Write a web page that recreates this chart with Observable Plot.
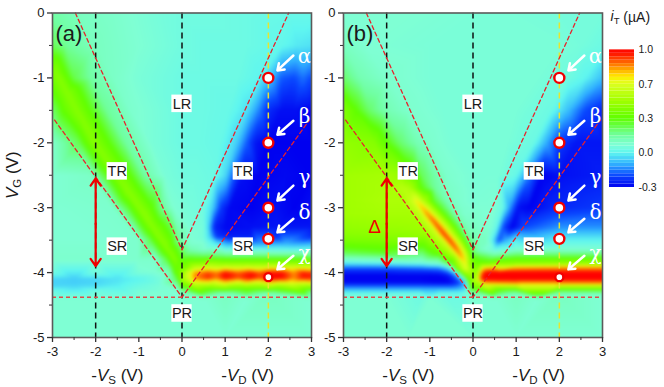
<!DOCTYPE html>
<html><head><meta charset="utf-8">
<script src="https://cdn.jsdelivr.net/npm/d3@7"></script>
<script src="https://cdn.jsdelivr.net/npm/@observablehq/plot@0.6"></script>
<style>
html,body{margin:0;padding:0;background:#fff}
#page{position:relative;width:664px;height:387px;overflow:hidden;font-family:"Liberation Sans",Arial,sans-serif}
#page>div{position:absolute;top:0}
svg{overflow:visible;background:transparent;display:block}
</style></head><body><div id="page"><div id="pa" style="left:0"></div><div id="pb" style="left:291px"></div><div id="cb" style="left:600px"></div></div>
<script>
// Colour scale (i_T in uA)
const colorStops=[-0.3,-0.2,-0.1,0,0.07,0.15,0.3,0.5,0.7,0.76,0.85,0.95,1.0];
const colorHex=["#0000f0","#0a48ff","#30b0ff","#5ff6f0","#7fffd4","#70ffa0","#60ff00","#a0ff00","#dcff20","#ffee00","#ff9000","#ff2000","#ff0000"];
const barTicks=[-0.3,0.0,0.3,0.7,1.0];

// Surface: [gate voltage, [x, i, x, i, ...]]
const leftA=[
[0,[-3,.14,-2.4,.1,-1.5,.08,-.5,.05,0,.04]],
[-.5,[-3,.22,-2.7,.16,-2,.1,-1,.07,0,.04]],
[-1,[-3,.36,-2.85,.42,-2.5,.23,-2.1,.14,-1.6,.09,-1,.06,0,.03]],
[-1.5,[-3,.2,-2.75,.31,-2.44,.42,-2.15,.3,-1.75,.16,-1.2,.08,0,.03]],
[-2,[-3,.08,-2.4,.22,-2.2,.33,-2.02,.42,-1.75,.32,-1.3,.15,-.7,.06,0,.03]],
[-2.5,[-3,.07,-2.1,.09,-1.75,.27,-1.51,.42,-1.25,.32,-.85,.14,-.4,.06,0,.04]],
[-3,[-3,.07,-1.6,.08,-1.25,.25,-.98,.43,-.72,.32,-.42,.14,-.2,.07,0,.06]],
[-3.5,[-3,.07,-2,.07,-1,.08,-.75,.22,-.47,.43,-.25,.32,-.1,.17,0,.12]],
[-3.8,[-3,.08,-2,.08,-1,.08,-.6,.08,-.38,.22,-.17,.42,-.05,.32,0,.28]],
[-4,[-3,.04,-2,.05,-1,.06,-.6,.07,-.3,.1,-.15,.32,-.05,.38,0,.48]],
[-4.1,[-3,-.05,-2.5,-.06,-2,-.05,-1.5,-.03,-1,.0,-.5,.05,-.15,.2,-.03,.38,0,.52]],
[-4.2,[-3,-.05,-2.5,-.05,-2,-.04,-1.5,-.01,-1,.03,-.5,.06,-.1,.12,0,.35]],
[-4.3,[-3,.04,-2,.05,-1,.06,-.5,.07,-.1,.07,0,.12]],
[-4.4,[-3,.07,-2,.07,-1,.07,0,.07]],
[-5,[-3,.07,-1.5,.07,0,.07]]
];
// Crest of the green band in (a): x, gate voltage, i
const crestA=[-2.95,-.88,.41,-2.75,-1.12,.42,-2.64,-1.25,.42,-2.54,-1.38,.42,-2.33,-1.62,.42,-2.23,-1.75,.42,-2.12,-1.88,.42,-1.9,-2.12,.42,-1.77,-2.25,.42,-1.64,-2.38,.42,-1.38,-2.62,.42,-1.25,-2.75,.43,-1.11,-2.88,.43,-.85,-3.12,.44,-.73,-3.25,.43,-.6,-3.38,.43,-.35,-3.62,.42,-.24,-3.72,.42];
const rightA=[
[0,[.5,.04,1.5,.03,2.5,.02,3,.02]],
[-.5,[.5,.03,1.5,.03,2.3,.01,2.7,-.02,3,-.03]],
[-1,[.5,.03,1.3,.03,1.8,0,2.05,-.08,2.3,-.18,2.6,-.2,2.8,-.16,3,-.2]],
[-1.5,[.5,.03,1.1,.02,1.5,-.03,1.8,-.15,2,-.24,2.3,-.28,2.6,-.28,3,-.3]],
[-2,[.4,.03,.9,.02,1.25,-.05,1.5,-.18,1.7,-.27,2,-.3,2.5,-.3,3,-.3]],
[-2.5,[.3,.04,.75,.03,1,-.04,1.2,-.18,1.4,-.28,1.8,-.3,2.4,-.29,3,-.3]],
[-3,[.2,.05,.5,.04,.7,-.05,.9,-.22,1.1,-.29,1.6,-.3,2.2,-.28,2.6,-.3,3,-.28]],
[-3.3,[.2,.06,.5,.05,.62,-.05,.75,-.25,1,-.29,1.6,-.28,2.2,-.27,3,-.27]],
[-3.45,[.2,.07,.5,.05,.65,-.05,.8,-.22,1.1,-.26,1.6,-.26,2.2,-.24,3,-.24]],
[-3.55,[.2,.08,.5,.07,.8,-.02,1.2,-.1,1.8,-.12,2.4,-.1,3,-.1]],
[-3.65,[.2,.12,.5,.08,1,.04,1.5,.02,2,.03,2.5,.02,3,.03]],
[-3.75,[.15,.24,.5,.22,1,.2,1.5,.2,2,.2,2.5,.2,3,.2]],
[-3.83,[.15,.36,.5,.38,1,.38,1.5,.38,2,.38,2.5,.38,3,.38]],
[-3.92,[.1,.4,.3,.6,.6,.66,1,.68,1.5,.68,2,.7,2.5,.68,3,.66]],
[-4,[.1,.62,.3,.84,.6,.92,.8,.87,1,.98,1.3,.9,1.6,.97,1.8,.9,2,.98,2.3,.98,2.6,.85,2.8,.96,3,.94]],
[-4.08,[.1,.62,.3,.86,.6,.95,.8,.88,1,1,1.3,.92,1.6,1,1.8,.92,2,1,2.3,1,2.6,.86,2.8,.97,3,.96]],
[-4.16,[.1,.47,.3,.66,.6,.7,1,.74,1.5,.74,2,.76,2.5,.7,3,.72]],
[-4.24,[.15,.26,.6,.36,1.5,.36,2.2,.36,3,.36]],
[-4.32,[.15,.1,1,.1,2,.1,3,.1]],
[-4.4,[.5,.07,1.5,.07,3,.07]],
[-5,[1,.07,3,.07]]
];
// Surface
const leftB=[
[0,[-3,.07,-1.5,.07,0,.06]],
[-.5,[-3,.1,-2.5,.07,-1,.06,0,.06]],
[-1,[-3,.2,-2.6,.12,-2,.08,-1,.06,0,.06]],
[-1.5,[-3,.4,-2.7,.3,-2.4,.2,-2,.12,-1.5,.08,-.7,.06,0,.06]],
[-2,[-3,.46,-2.3,.42,-2,.3,-1.7,.2,-1.3,.12,-1,.08,-.5,.06,0,.06]],
[-2.5,[-3,.5,-2,.52,-1.7,.48,-1.5,.38,-1.2,.22,-.9,.14,-.6,.08,0,.06]],
[-2.7,[-3,.5,-2,.53,-1.6,.58,-1.45,.54,-1.2,.3,-.9,.16,-.6,.09,0,.06]],
[-2.9,[-3,.5,-2,.54,-1.6,.54,-1.45,.62,-1.29,.76,-1.13,.56,-.9,.26,-.6,.12,-.35,.08,0,.06]],
[-3,[-3,.5,-2,.53,-1.55,.53,-1.33,.62,-1.17,.82,-1.01,.62,-.78,.28,-.5,.12,-.25,.08,0,.07]],
[-3.1,[-3,.5,-2,.52,-1.45,.52,-1.21,.62,-1.05,.88,-.89,.65,-.65,.29,-.4,.12,-.2,.08,0,.08]],
[-3.2,[-3,.48,-2,.5,-1.3,.51,-1.08,.64,-.92,.92,-.76,.67,-.52,.29,-.3,.13,-.15,.09,0,.09]],
[-3.3,[-3,.46,-2,.48,-1.2,.5,-.96,.64,-.8,.94,-.64,.69,-.4,.29,-.22,.14,-.1,.1,0,.1]],
[-3.4,[-3,.43,-2,.45,-1.1,.48,-.84,.64,-.68,.96,-.52,.69,-.3,.29,-.15,.15,-.05,.12,0,.12]],
[-3.5,[-3,.38,-2,.4,-1,.46,-.71,.64,-.55,.95,-.39,.69,-.2,.3,-.08,.17,0,.15]],
[-3.6,[-3,.3,-2,.33,-.9,.4,-.59,.62,-.43,.93,-.27,.67,-.12,.3,0,.18]],
[-3.7,[-3,.22,-2,.26,-.8,.33,-.48,.58,-.32,.88,-.16,.62,-.05,.28,0,.22]],
[-3.8,[-3,.07,-2,.1,-.8,.15,-.45,.38,-.22,.8,-.08,.5,0,.34]],
[-3.85,[-3,0,-2,.02,-1.2,.05,-.8,.1,-.6,.22,-.45,.38,-.3,.6,-.18,.76,-.08,.45,0,.36]],
[-3.95,[-3,-.22,-2,-.22,-1.2,-.2,-.8,-.18,-.6,-.1,-.45,.1,-.3,.48,-.18,.68,-.08,.58,0,.44]],
[-4.05,[-3,-.3,-2,-.3,-1.2,-.3,-.8,-.3,-.6,-.28,-.45,-.2,-.3,.02,-.18,.32,-.08,.45,0,.47]],
[-4.15,[-3,-.29,-2,-.29,-1.2,-.29,-.8,-.3,-.6,-.3,-.45,-.27,-.3,-.2,-.18,-.05,-.08,.3,0,.5]],
[-4.25,[-3,-.1,-2,-.1,-1.2,-.1,-.8,-.1,-.6,-.1,-.45,-.1,-.3,-.08,-.18,-.04,-.08,.2,0,.3]],
[-4.32,[-3,.03,-2,.03,-1.2,.03,-.8,.03,-.6,.03,-.45,.03,-.3,.03,-.18,.04,-.08,.08,0,.12]],
[-4.4,[-3,.07,-2,.07,-1,.07,0,.07]],
[-5,[-3,.07,-1.5,.07,0,.07]]
];
const rightB=[
[0,[.7,.06,2,.05,3,.05]],
[-.5,[.7,.06,2,.06,2.5,.05,3,.03]],
[-1,[.7,.06,1.5,.06,2.2,.04,2.6,0,3,-.08]],
[-1.5,[.5,.06,1,.06,1.8,.03,2.2,-.08,2.6,-.2,3,-.25]],
[-2,[.5,.06,.8,.06,1.4,.03,1.7,-.1,2,-.22,2.4,-.27,3,-.27]],
[-2.5,[.3,.06,.6,.06,1,.02,1.3,-.15,1.6,-.3,2,-.28,3,-.26]],
[-3,[.2,.07,.5,.07,.7,.02,.85,-.12,1.05,-.28,1.3,-.3,1.8,-.25,3,-.22]],
[-3.3,[.2,.08,.4,.07,.55,.02,.7,-.2,.9,-.3,1.2,-.2,2,-.13,3,-.13]],
[-3.5,[.15,.1,.3,.1,.45,0,.6,-.2,.75,-.1,1,0,2,.0,3,0]],
[-3.65,[.15,.1,.5,.03,1,.08,2,.08,3,.08]],
[-3.75,[.15,.24,.5,.17,1,.24,2,.24,3,.24]],
[-3.85,[.15,.33,.3,.33,.5,.4,1,.42,2,.44,3,.46]],
[-3.92,[.12,.42,.25,.74,.5,.78,1,.8,2,.82,3,.82]],
[-4,[.1,.48,.18,.84,.3,1,.6,1,1,1,2,1,3,1]],
[-4.1,[.1,.62,.2,.97,.3,1,.6,1,1,1,2,1,3,1]],
[-4.17,[.15,.52,.3,.78,.6,.8,1,.82,2,.82,3,.82]],
[-4.25,[.15,.32,.6,.34,1,.34,2,.34,3,.34]],
[-4.32,[.15,.12,1,.1,2,.1,3,.1]],
[-4.4,[.5,.07,1.5,.07,3,.07]],
[-5,[1,.07,3,.07]]
];

// Guide lines
const upperVx=[-2.47,0,2.47], upperVy=[0,-3.65,0];
const lowerVx=[-2.95,0,2.95], lowerVy=[-1.65,-4.38,-1.65];
const pinchY=-4.38;

// Region labels
const regionNames=["LR","TR","TR","SR","SR","PR"];
const regionX=[0,-1.5,1.42,-1.5,1.42,0];
const regionY=[-1.4,-2.44,-2.44,-3.6,-3.6,-4.63];

// Marked points, arrows, Greek names
const bias=2;
const markY=[-1,-2,-3,-3.48,-4.07];
const markR=[5,5,5,5,4];
const greek=["α","β","γ","δ","χ"];
const greekY=[-.67,-1.6,-2.53,-3.07,-3.7];
const arrowFromY=[-.655,-1.66,-2.66,-3.17,-3.74];
const arrowToY=[-.885,-1.875,-2.89,-3.38,-3.95];
const arrowFromX=2.58, arrowToX=2.21;

const pts=rows=>rows.flatMap(([y,p])=>{const o=[];for(let i=0;i<p.length;i+=2)o.push({x:p[i],y,v:p[i+1]});return o;});
const triples=p=>{const o=[];for(let i=0;i<p.length;i+=3)o.push({x:p[i],y:p[i+1],v:p[i+2]});return o;};

const color={type:"linear",domain:colorStops,range:colorHex,clamp:true};
const majorX=[-3,-2,-1,0,1,2,3], minorX=[-2.5,-1.5,-.5,.5,1.5,2.5];
const majorY=[0,-1,-2,-3,-4,-5], minorY=[-.5,-1.5,-2.5,-3.5,-4.5];
const fmt=d=>String(d);
const ink="#1a1a1a", red="#e8212b";

function panel(id,name,surface,showDelta){
  const regions=regionNames.map((t,i)=>({t,x:regionX[i],y:regionY[i]}));
  const marks=markY.map((y,i)=>({y,r:markR[i],g:greek[i],gy:greekY[i],fy:arrowFromY[i],ty:arrowToY[i]}));
  const V=[...upperVx.map((x,i)=>({x,y:upperVy[i],z:"u"})),...lowerVx.map((x,i)=>({x,y:lowerVy[i],z:"l"}))];
  const axisLabels=[{x:-1.5,y:-5.58,t:"-*V*_S_ (V)"},{x:1.52,y:-5.58,t:"-*V*_D_ (V)"}];
  const svg=Plot.plot({
    width:330,height:387,marginLeft:52,marginRight:19,marginTop:12.5,marginBottom:50,
    style:{background:"transparent",fontFamily:"'Liberation Sans',Arial,sans-serif"},
    x:{domain:[-3,3],label:null},y:{domain:[-5,0],label:null},color,r:{type:"identity"},
    marks:[
      Plot.raster(surface,{x:"x",y:"y",fill:"v",interpolate:"barycentric",pixelSize:1,blur:1.2,imageRendering:"auto"}),
      Plot.ruleX([-2,0],{stroke:"#111",strokeWidth:1.5,strokeDasharray:"6,4"}),
      Plot.ruleX([bias],{stroke:"#e6e62e",strokeWidth:1.5,strokeDasharray:"6,4"}),
      Plot.line(V,{x:"x",y:"y",z:"z",stroke:red,strokeWidth:1.3,strokeDasharray:"4,3"}),
      Plot.ruleY([pinchY],{stroke:"#e04a4a",strokeWidth:1.3,strokeDasharray:"4,3"}),
      Plot.rect(regions,{x1:d=>d.x-.235,x2:d=>d.x+.235,y1:d=>d.y-.135,y2:d=>d.y+.135,fill:"#fff"}),
      Plot.text(regions,{x:"x",y:"y",text:"t",fontSize:14.5,fill:ink}),
      Plot.arrow(marks,{x1:arrowFromX,x2:arrowToX,y1:"fy",y2:"ty",stroke:"#fff",strokeWidth:2.5,headLength:6,headAngle:70,inset:0}),
      Plot.arrow([{y1:-3.25,y2:-2.55},{y1:-3.25,y2:-3.9}],{x:-2,y1:"y1",y2:"y2",stroke:"#f00000",strokeWidth:2.2,headLength:6,headAngle:70,inset:0}),
      Plot.dot(marks,{x:bias,y:"y",r:"r",fill:"#fff",stroke:"#f00000",strokeWidth:2.4}),
      Plot.text(marks,{x:2.84,y:"gy",text:"g",fill:"#fff",fontSize:20,fontFamily:"'DejaVu Serif',serif"}),
      Plot.text([name],{x:-2.62,y:-.32,text:d=>d,fontSize:22,fill:ink}),
      showDelta?Plot.text(["Δ"],{x:-2.28,y:-3.3,text:d=>d,fontSize:19,fill:"#f00000"}):null,
      Plot.frame({stroke:"#5a5a5a",strokeWidth:1.6}),
      Plot.axisX(majorX,{anchor:"bottom",tickSize:5,tickPadding:4,tickFormat:fmt,fontSize:13,fill:ink,stroke:"#333",strokeWidth:1.3,label:null}),
      Plot.axisX(minorX,{anchor:"bottom",tickSize:3,fill:"none",stroke:"#333",strokeWidth:1,label:null}),
      Plot.axisY(majorY,{anchor:"left",tickSize:5,tickPadding:3,tickFormat:fmt,fontSize:13,fill:ink,stroke:"#333",strokeWidth:1.3,label:null}),
      Plot.axisY(minorY,{anchor:"left",tickSize:3,fill:"none",stroke:"#333",strokeWidth:1,label:null}),
      Plot.text(axisLabels,{x:"x",y:"y",text:"t",fontSize:17,fill:ink}),
      showDelta?null:Plot.text(["*V*_G_ (V)"],{x:-3,y:-2.5,dx:-40,rotate:-90,text:d=>d,fontSize:17,fill:ink})
    ]
  });
  richText(svg);
  document.getElementById(id).append(svg);
}
// Turn "*V*_S_" notation of the labels into italic and subscript spans
function richText(svg){
  d3.select(svg).selectAll("text").each(function(){
    const s=this.textContent;
    if(!/[*_]/.test(s))return;
    const el=d3.select(this);el.text(null);
    let shifted=false;
    for(const tok of s.split(/(\*[^*]+\*|_[^_]+_)/).filter(Boolean)){
      const ts=el.append("tspan");
      if(tok[0]==="*")ts.attr("font-style","italic").text(tok.slice(1,-1));
      else if(tok[0]==="_"){ts.attr("font-size","0.68em").attr("dy","0.3em").text(tok.slice(1,-1));shifted=true;}
      else{ts.text(tok);if(shifted){ts.attr("dy","-0.2em");shifted=false;}}
    }
  });
}
panel("pa","(a)",[...pts(leftA),...triples(crestA),...pts(rightA)],false);
panel("pb","(b)",[...pts(leftB),...pts(rightB)],true);

// Colour bar: evenly spaced labels, so the bar runs over label positions
const barValue=d3.scaleLinear(d3.range(barTicks.length),barTicks);
const barEdges=d3.ticks(0,4.04,40);
const bands=d3.pairs(barEdges).map(([a,b])=>({a,b,v:barValue((a+b)/2)}));
const bar=Plot.plot({
  width:64,height:200,marginLeft:9,marginRight:30,marginTop:48,marginBottom:13,
  style:{background:"transparent",fontFamily:"'Liberation Sans',Arial,sans-serif"},
  x:{axis:null,domain:[0,1]},
  y:{domain:[0,4.04],label:null},color,
  marks:[
    Plot.rect(bands,{x1:0,x2:1,y1:"a",y2:"b",fill:"v"}),
    Plot.axisY(d3.range(barTicks.length),{anchor:"right",tickSize:0,tickPadding:4,tickFormat:i=>barTicks[i].toFixed(1),fontSize:10.5,fill:ink,label:null}),
    Plot.text(["*i*_T_ (µA)"],{frameAnchor:"top-left",dx:1,dy:-37,text:d=>d,textAnchor:"start",fontSize:14,fill:ink})
  ]
});
richText(bar);
document.getElementById("cb").append(bar);
</script></body></html>
